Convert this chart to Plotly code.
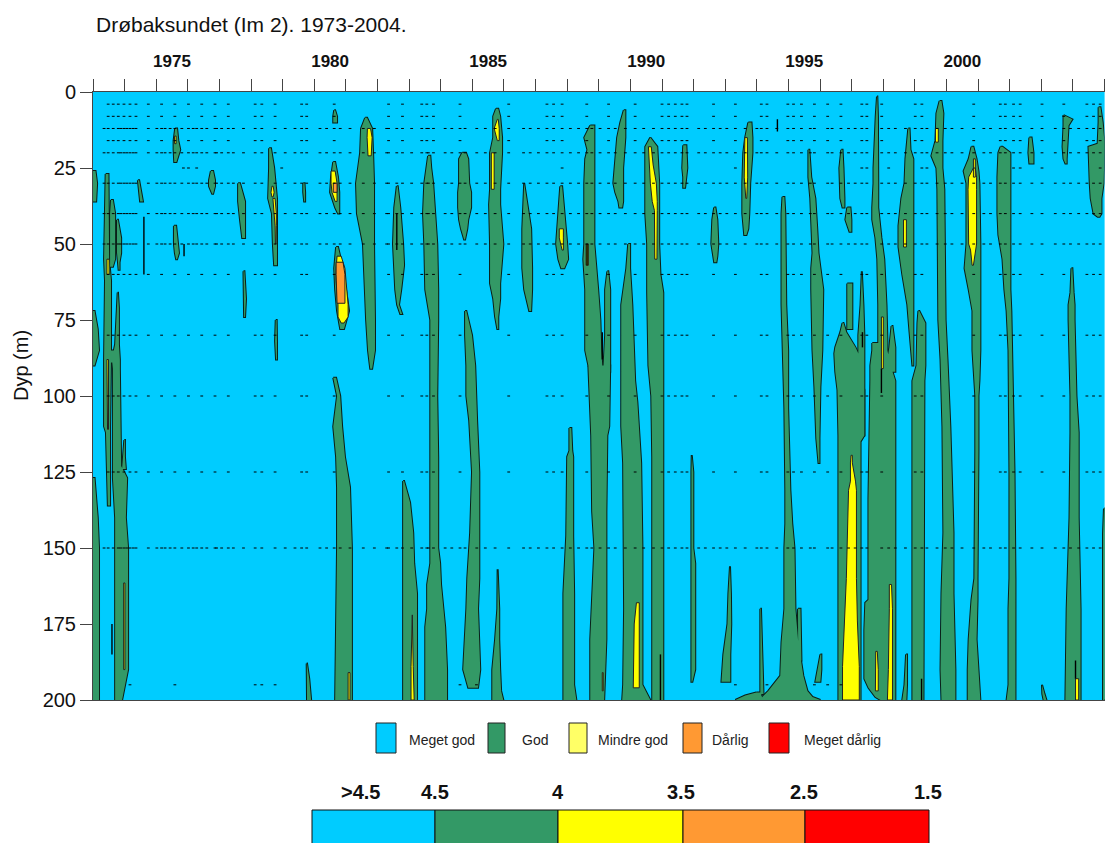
import plotly.graph_objects as go

W, H = 1105, 843
TITLE = "Drøbaksundet (Im 2). 1973-2004."
FONT = "Liberation Sans"
YEAR_TICKS = list(range(1973, 2006))
YEAR_LABELS = [1975, 1980, 1985, 1990, 1995, 2000]
DEPTH_TICKS = [0, 25, 50, 75, 100, 125, 150, 175, 200]
CLR = dict(vg="#00CCFF", g="#339966", y="#FFFF00", o="#FF9933", r="#FF0000")

LEGEND_LABELS = ["Meget god", "God", "Mindre god", "Dårlig", "Meget dårlig"]
LEGEND_COLOURS = ["#00CCFF", "#339966", "#FFFF66", "#FF9933", "#FF0000"]
SCALE_LABELS = [">4.5", "4.5", "4", "3.5", "2.5", "1.5"]
SCALE_COLOURS = ["#00CCFF", "#339966", "#FFFF00", "#FF9933", "#FF0000"]

# Each band: depths (m), left edge (year), right edge (year)
GOD_BANDS = [
 ([26,30,36],[1972.99]*3,[1973.08,1973.13,1973.10]),
 ([72,78,85,90],[1972.99]*4,[1973.05,1973.15,1973.19,1973.05]),
 ([127,133,140,150,200],[1972.99]*5,[1973.05,1973.10,1973.15,1973.19,1973.19]),
 ([27,35,55,62],[1973.40,1973.38,1973.35,1973.38],[1973.49,1973.51,1973.51,1973.57]),
 ([35.5,40,55,57.5],[1973.57,1973.54,1973.54,1973.54],[1973.63,1973.70,1973.70,1973.63]),
 ([42,48,53,56,58.5],[1973.76,1973.76,1973.76,1973.79,1973.81],[1973.79,1973.89,1973.89,1973.84,1973.84]),
 ([62,88,110,112,136],[1973.38,1973.35,1973.35,1973.41,1973.47],[1973.57,1973.57,1973.54,1973.54,1973.54]),
 ([66,71,83,88,91,123,127,140,150,190,195,200],[1973.78,1973.76,1973.70,1973.60,1973.63,1973.63,1973.63,1973.70,1973.70,1973.70,1973.70,1973.70],[1973.79,1973.82,1973.82,1973.85,1973.85,1973.89,1974.08,1974.04,1974.11,1974.11,1974.01,1973.92]),
 ([85,89],[1973.41,1973.41],[1973.70,1973.70]),
 ([114.5,120,124],[1973.99,1973.96,1973.92],[1974.01,1974.01,1974.04]),
 ([29,32,36],[1974.42,1974.44,1974.49],[1974.46,1974.52,1974.58]),
 ([12,16,19,23],[1975.60,1975.55,1975.55,1975.57],[1975.66,1975.70,1975.76,1975.64]),
 ([26,29,31,33.5],[1976.73,1976.67,1976.67,1976.77],[1976.80,1976.86,1976.86,1976.80]),
 ([44,50,53,55],[1975.56,1975.56,1975.59,1975.63],[1975.63,1975.69,1975.72,1975.66]),
 ([30,36,42,48],[1977.59,1977.59,1977.65,1977.72],[1977.65,1977.81,1977.81,1977.81]),
 ([18.5,25,35,40,50,57],[1978.57,1978.57,1978.54,1978.66,1978.69,1978.73],[1978.63,1978.73,1978.82,1978.82,1978.82,1978.82]),
 ([30,33,36],[1979.65,1979.65,1979.68],[1979.69,1979.71,1979.71]),
 ([6,8,10],[1980.63,1980.60,1980.60],[1980.66,1980.72,1980.72]),
 ([23,28,33,38,40],[1980.60,1980.53,1980.50,1980.66,1980.75],[1980.66,1980.75,1980.79,1980.79,1980.79]),
 ([51,58,65,72,78],[1980.69,1980.63,1980.66,1980.72,1980.82],[1980.75,1980.91,1981.01,1981.10,1980.94]),
 ([94,100,110,120,130,150,200],[1980.60,1980.72,1980.60,1980.69,1980.72,1980.72,1980.66],[1980.69,1980.82,1980.88,1980.97,1981.13,1981.19,1981.19]),
 ([8.5,12,20,30,40,50,75,85,91],[1981.61,1981.48,1981.45,1981.32,1981.35,1981.54,1981.64,1981.70,1981.77],[1981.67,1981.83,1981.86,1981.89,1981.89,1981.89,1981.92,1981.92,1981.83]),
 ([31,38,50,57,65,70,73],[1982.61,1982.53,1982.49,1982.53,1982.56,1982.62,1982.72],[1982.64,1982.72,1982.81,1982.84,1982.75,1982.68,1982.78]),
 ([21,25,30,40,50,65,75,100,120,150,155,162,170,176,190,200],[1983.60,1983.54,1983.48,1983.44,1983.48,1983.51,1983.67,1983.67,1983.67,1983.67,1983.67,1983.57,1983.57,1983.51,1983.51,1983.51],[1983.67,1983.70,1983.76,1983.82,1983.89,1983.92,1983.92,1983.89,1983.92,1983.92,1983.98,1984.01,1984.08,1984.14,1984.20,1984.20]),
 ([128,135,145,155,165,200],[1982.81]*6,[1982.84,1983.03,1983.13,1983.16,1983.25,1983.25]),
 ([20,22,30,33,38,42,45,48.5],[1984.68,1984.58,1984.58,1984.55,1984.55,1984.58,1984.64,1984.74],[1984.80,1984.87,1984.90,1984.96,1984.96,1984.87,1984.84,1984.77]),
 ([72,80,90,100,108,125,145,160,170,190,196],[1984.77,1984.77,1984.81,1984.81,1984.90,1984.99,1984.93,1984.84,1984.81,1984.71,1984.87],[1984.81,1984.99,1985.09,1985.12,1985.15,1985.22,1985.22,1985.22,1985.18,1985.25,1985.18]),
 ([5.5,8,15,20,32,37,50,63,68,74,78],[1985.75,1985.66,1985.66,1985.56,1985.56,1985.53,1985.56,1985.56,1985.66,1985.72,1985.79],[1985.82,1985.88,1985.94,1985.94,1985.88,1985.88,1985.98,1985.88,1985.88,1985.82,1985.82]),
 ([157,170,180,190,197,200],[1985.80,1985.79,1985.72,1985.63,1985.63,1985.63],[1985.82,1985.85,1985.85,1985.88,1985.91,1985.98]),
 ([30,36,45,58,65,72],[1986.64,1986.61,1986.58,1986.58,1986.64,1986.80],[1986.66,1986.74,1986.86,1986.89,1986.89,1986.86]),
 ([31,35,42,50,55,58],[1987.78,1987.75,1987.69,1987.65,1987.72,1987.81],[1987.84,1987.88,1987.94,1988.00,1988.03,1987.91]),
 ([110.5,118,120,146,165,195,200],[1988.07,1988.07,1988.00,1987.97,1987.88,1987.88,1987.88],[1988.13,1988.16,1988.19,1988.19,1988.22,1988.22,1988.29]),
 ([11,15,19,22,30,50,55,65,75,85,90],[1988.73,1988.54,1988.64,1988.57,1988.54,1988.54,1988.51,1988.57,1988.57,1988.57,1988.67],[1988.86,1988.86,1988.86,1988.86,1988.86,1988.86,1988.89,1988.98,1989.05,1989.08,1989.11]),
 ([90,110,113,138,150,180,200],[1988.67,1988.73,1988.76,1988.79,1988.86,1988.73,1988.73],[1989.36,1989.33,1989.27,1989.24,1989.24,1989.24,1989.17]),
 ([59,65,80,90,92],[1989.27,1989.20,1989.20,1989.14,1989.14],[1989.30,1989.36,1989.36,1989.36,1989.36]),
 ([6,10,15,25,30,33,36,38],[1989.79,1989.68,1989.58,1989.49,1989.46,1989.52,1989.62,1989.65],[1989.84,1989.84,1989.84,1989.77,1989.77,1989.77,1989.77,1989.74]),
 ([50,58,70,95,102,110,122,150,170,195,200],[1989.93,1989.87,1989.71,1989.71,1989.71,1989.71,1989.77,1989.80,1989.80,1989.77,1989.74],[1989.99,1989.99,1990.06,1990.15,1990.22,1990.28,1990.34,1990.38,1990.38,1990.38,1990.63]),
 ([15,18,30,40,50,60,66,90,100,120,200],[1990.63,1990.47,1990.47,1990.47,1990.53,1990.53,1990.53,1990.57,1990.66,1990.69,1990.69],[1990.63,1990.85,1990.91,1990.91,1990.91,1990.95,1991.04,1991.04,1991.04,1991.04,1991.04]),
 ([17.5,25,28,31.5],[1991.67,1991.64,1991.67,1991.67],[1991.77,1991.80,1991.77,1991.73]),
 ([38,42,50,54,56],[1992.65,1992.59,1992.56,1992.62,1992.65],[1992.69,1992.75,1992.78,1992.75,1992.72]),
 ([119.4,125,150,155,190,194],[1991.94,1991.93,1991.93,1991.93,1991.93,1991.93],[1991.96,1991.99,1991.99,1992.05,1992.05,1991.96]),
 ([156,165,175,185,194],[1993.15,1993.10,1993.07,1992.94,1992.88],[1993.16,1993.18,1993.19,1993.16,1993.16]),
 ([10,15,20,30,40,45,47],[1993.73,1993.63,1993.57,1993.54,1993.54,1993.57,1993.60],[1993.83,1993.86,1993.86,1993.79,1993.76,1993.73,1993.67]),
 ([34.5,40,70,85,104,131,142,150,170,181,192,197,199,200],[1994.81,1994.78,1994.78,1994.81,1994.87,1994.90,1994.90,1994.87,1994.87,1994.78,1994.74,1994.36,1994.17,1994.17],[1994.87,1994.90,1994.93,1994.99,1994.99,1995.06,1995.12,1995.19,1995.22,1995.31,1995.47,1995.60,1995.76,1996.01]),
 ([197.5,198.5,200],[1993.98,1993.63,1993.32],[1994.14,1994.14,1994.21]),
 ([170,180,198],[1994.11,1994.11,1994.11],[1994.13,1994.17,1994.21]),
 ([170,187],[1995.30,1995.31],[1995.38,1995.41]),
 ([19,28,35,45,53,58,65,85,97,114,122],[1995.63,1995.63,1995.69,1995.72,1995.76,1995.72,1995.72,1995.76,1995.82,1995.88,1995.95],[1995.66,1995.72,1995.85,1995.91,1995.95,1996.01,1996.10,1996.07,1996.01,1995.98,1995.98]),
 ([19,25,35,38],[1996.67,1996.61,1996.64,1996.71],[1996.71,1996.74,1996.77,1996.77]),
 ([38,42,46],[1996.86,1996.80,1996.93],[1996.96,1996.99,1996.99]),
 ([63,78],[1996.86,1996.86],[1997.02,1997.02]),
 ([76,79,84,86,92,98,113,115,200],[1996.71,1996.64,1996.48,1996.45,1996.48,1996.55,1996.58,1996.58,1996.58],[1996.74,1996.83,1997.12,1997.21,1997.28,1997.40,1997.40,1997.28,1997.28]),
 ([59,70,80,113],[1997.32,1997.28,1997.21,1997.21],[1997.34,1997.37,1997.40,1997.40]),
 ([1.5,8,25,30,38,42,48,55,70,82,85],[1997.80,1997.76,1997.69,1997.69,1997.65,1997.65,1997.75,1997.81,1997.84,1997.84,1997.84],[1997.81,1997.83,1997.84,1997.84,1997.84,1997.88,1997.94,1998.03,1998.10,1998.13,1998.13]),
 ([77,84,92],[1998.26,1998.19,1998.07],[1998.29,1998.38,1998.38]),
 ([82.6,85,90,95,134,160,167,168,177,193,196,199,200],[1997.65,1997.65,1997.59,1997.59,1997.53,1997.53,1997.53,1997.43,1997.40,1997.40,1997.53,1997.75,1997.91],[1997.91,1998.13,1998.23,1998.38,1998.38,1998.38,1998.38,1998.38,1998.38,1998.38,1998.38,1998.38,1998.38]),
 ([12,19,22,30,35,44,51,60,70,79,90],[1998.79,1998.73,1998.70,1998.67,1998.57,1998.48,1998.48,1998.60,1998.76,1998.83,1998.92],[1998.83,1998.86,1998.95,1998.95,1998.95,1998.95,1998.95,1998.95,1998.95,1998.95,1998.95]),
 ([72,76,90,95,200],[1999.11,1999.08,1999.05,1998.92,1998.92],[1999.14,1999.33,1999.33,1999.30,1999.27]),
 ([3,7,16,21,25,32,75,88,110,145,165,190,200],[1999.78,1999.68,1999.65,1999.52,1999.68,1999.71,1999.74,1999.81,1999.87,1999.90,1999.84,1999.81,1999.84],[1999.84,1999.90,1999.87,1999.87,1999.87,1999.93,1999.97,2000.03,2000.12,2000.22,2000.22,2000.28,2000.28]),
 ([18,22,26,30,50,58,65,72,85,95,100,118,160,167,180,190,200],[2000.79,2000.70,2000.54,2000.63,2000.63,2000.57,2000.70,2000.82,2000.82,2000.88,2000.91,2000.91,2000.88,2000.79,2000.70,2000.67,2000.67],[2000.85,2000.95,2001.01,2001.04,2001.07,2001.07,2001.07,2001.07,2001.07,2001.04,2001.01,2001.01,2000.98,2000.98,2000.95,2001.01,2001.07]),
 ([18,20,28,40,47,55,65,72,85,125,160,170,195,200],[2001.71,2001.64,2001.61,2001.61,2001.64,2001.77,2001.83,2001.90,2001.96,2001.99,2001.99,2001.96,2001.96,2001.90],[2001.77,2002.02,2002.02,2002.02,2002.02,2002.02,2002.02,2002.05,2002.09,2002.15,2002.18,2002.18,2002.18,2002.18]),
 ([15,20,23.5],[2002.62,2002.59,2002.62],[2002.69,2002.75,2002.75]),
 ([7.6,9,11,18,22,23.5],[2003.70,2003.70,2003.70,2003.67,2003.70,2003.76],[2003.73,2003.98,2003.86,2003.83,2003.80,2003.80]),
 ([5,10,17,18,30,35,40,41],[2004.81,2004.81,2004.78,2004.49,2004.53,2004.56,2004.65,2004.78],[2004.87,2004.94,2005.00,2005.00,2004.97,2004.90,2004.90,2004.84]),
 ([58,66,70,75,100,112,140,170,200],[2003.95,2003.92,2003.86,2003.86,2003.92,2003.92,2003.89,2003.80,2003.76],[2003.98,2004.02,2004.05,2004.05,2004.11,2004.18,2004.18,2004.24,2004.24]),
 ([137,145,200],[2004.98,2004.95,2004.95],[2005.1,2005.1,2005.1]),
 ([59,68,74],[1977.76,1977.76,1977.78],[1977.79,1977.84,1977.81]),
 ([75,82,88],[1978.78,1978.76,1978.79],[1978.81,1978.82,1978.82]),
 ([188,193,200],[1979.76,1979.77,1979.77],[1979.77,1979.84,1979.90]),
 ([185,195,200],[1998.72,1998.67,1998.60],[1998.75,1998.75,1998.73]),
 ([185,190,194],[1996.01,1995.91,1995.85],[1996.04,1996.04,1996.01]),
 ([195,198,200],[2003.02,2003.03,2003.07],[2003.03,2003.10,2003.16]),
]

MINDRE_GOD_BANDS = [
 ([14.5,17],[1975.58,1975.58],[1975.63,1975.63]),
 ([31,33,34.5],[1978.66,1978.63,1978.66],[1978.70,1978.73,1978.70]),
 ([35,40,44,50],[1978.69,1978.72,1978.76,1978.77],[1978.76,1978.80,1978.80,1978.79]),
 ([26,30,33,36],[1980.53,1980.53,1980.56,1980.66],[1980.66,1980.72,1980.72,1980.72]),
 ([54,58,62,70,74,76],[1980.72,1980.69,1980.69,1980.75,1980.75,1980.85],[1980.85,1980.97,1981.01,1981.07,1981.07,1980.94]),
 ([12,15,21],[1981.68,1981.67,1981.70],[1981.78,1981.83,1981.80]),
 ([191,200],[1981.07,1981.07],[1981.13,1981.13]),
 ([88,111],[1973.44,1973.46],[1973.49,1973.49]),
 ([161.5,190],[1973.97,1973.97],[1974.01,1974.01]),
 ([55,60],[1973.44,1973.44],[1973.51,1973.51]),
 ([172,189,200],[1983.10,1983.06,1983.06],[1983.11,1983.13,1983.16]),
 ([9,12,16],[1985.79,1985.69,1985.79],[1985.82,1985.85,1985.85]),
 ([20,32],[1985.60,1985.60],[1985.69,1985.69]),
 ([45,48,52],[1987.75,1987.75,1987.84],[1987.88,1987.88,1987.88]),
 ([18,24,30,36,39,55],[1990.57,1990.60,1990.63,1990.69,1990.76,1990.77],[1990.66,1990.72,1990.82,1990.85,1990.85,1990.84]),
 ([168,175,196],[1990.19,1990.12,1990.09],[1990.28,1990.28,1990.28]),
 ([191,197],[1989.11,1989.11],[1989.14,1989.14]),
 ([50,57],[1988.60,1988.60],[1988.67,1988.67]),
 ([15,21,28,35],[1993.62,1993.60,1993.60,1993.65],[1993.70,1993.71,1993.71,1993.68]),
 ([74,91],[1997.94,1997.94],[1998.00,1998.00]),
 ([162,170,190,200],[1998.19,1998.19,1998.16,1998.13],[1998.26,1998.29,1998.29,1998.29]),
 ([184,190,197],[1997.76,1997.75,1997.75],[1997.81,1997.84,1997.84]),
 ([119.5,122,128,131,160,174,189,200],[1996.98,1996.96,1996.96,1996.90,1996.83,1996.77,1996.71,1996.71],[1997.02,1997.02,1997.12,1997.15,1997.15,1997.18,1997.24,1997.24]),
 ([42,51],[1998.64,1998.64],[1998.73,1998.73]),
 ([12,16.5],[1999.65,1999.65],[1999.74,1999.74]),
 ([22,28],[2000.85,2000.85],[2000.91,2000.91]),
 ([25,28,32,50,52,55,57],[2000.85,2000.70,2000.68,2000.70,2000.76,2000.79,2000.81],[2000.91,2000.95,2000.95,2000.95,2000.91,2000.88,2000.85]),
 ([193,200],[2004.08,2004.08],[2004.18,2004.18]),
]

DARLIG_BANDS = [
 ([30,33],[1980.60,1980.60],[1980.72,1980.72]),
 ([56,60,69.5],[1980.69,1980.69,1980.72],[1980.91,1980.97,1980.97]),
]

# Thin isolated contour slivers: year, top depth, bottom depth
SLIVERS = [
 (1974.61,41,60),(1975.88,50,54),(1973.60,175,185),(1990.95,185,200),
 (1999.21,193,200),(1989.11,79,88),(1997.94,91,99),(1997.34,79,84),
 (1994.65,9,13),(2004.08,187,193),(1988.63,50,57),(1982.61,40,52),
]

# Sampling times read from the dotted rows
SPARSE_TIMES = [1973.48,1973.64,1973.80,1973.98,1974.17,1974.36,1974.75,1975.17,1975.59,1976.02,1976.44,1976.86,1977.28,1978.13,1978.34,1978.76,1979.60,1979.76,1980.63,
 1982.35,1982.79,1983.40,1983.56,1983.77,1984.61,1986.15,1987.36,1987.57,1987.84,1988.62,1989.31,1990.15,1991.00,1991.21,1991.42,1991.63,1991.79,1992.63,1993.32,
 1994.14,1994.32,1994.98,1995.16,1995.41,1995.82,1996.24,1996.66,1997.32,1997.48,1997.95,1999.01,1999.22,2000.86,2001.70,2001.86,2002.12,2002.33,2003.02,2003.71,2004.44,2004.65,2004.86]
EXTRA_TIMES = [1973.35,1973.88,1974.07,1974.27,1975.02,1975.28,1975.44,1975.81,1976.17,1976.28,1976.60,1976.91,1977.07,1977.44,1977.76,1979.08,1979.39,1980.18,1980.39,1980.82,1981.13,1981.55,1981.90,
 1982.29,1982.61,1983.08,1983.61,1984.14,1984.35,1984.77,1985.14,1985.41,1985.72,1986.62,1986.83,1987.09,1988.10,1988.36,1988.78,1989.04,1989.52,1989.84,1990.42,1990.73,1992.16,1992.37,1992.84,1993.05,
 1993.63,1994.00,1994.63,1995.69,1996.38,1996.90,1997.11,1998.17,1998.38,1998.70,1999.38,1999.70,1999.96,2000.17,2000.49,2001.18,2001.39,2002.70,2003.44,2003.92,2004.18]
SPARSE_DEPTHS = [4, 8, 16, 60, 80, 100, 125]
DENSE_DEPTHS = [12, 20, 30, 40, 50, 150]
ROW25_TIMES = [1975.86,1976.02,1976.28,1978.97,1987.84,1993.32,1997.32,1997.48,1998.17,1999.22,1999.38,2002.12,2002.33,2003.02,2004.86]
ROW195_TIMES = [1974.17,1975.59,1978.13,1978.34,1978.76,1984.61,1985.13,1993.32,1994.32,1995.82,1996.24,1996.66]


def path(bands):
    xs, ys = [], []
    for depths, left, right in bands:
        xs += list(left) + list(right)[::-1] + [left[0], None]
        ys += list(depths) + list(depths)[::-1] + [depths[0], None]
    return xs, ys


fig = go.Figure()
gx, gy = path(GOD_BANDS)
fig.add_trace(go.Scatter(x=gx, y=gy, mode="lines", fill="toself", fillcolor=CLR["g"],
                         line=dict(color="#0a1f18", width=2), hoverinfo="skip"))
fig.add_trace(go.Scatter(x=gx, y=gy, mode="lines", fill="toself", fillcolor=CLR["g"],
                         line=dict(color=CLR["g"], width=0), hoverinfo="skip"))
yx, yy = path(MINDRE_GOD_BANDS)
fig.add_trace(go.Scatter(x=yx, y=yy, mode="lines", fill="toself", fillcolor=CLR["y"],
                         line=dict(color="#222", width=1), hoverinfo="skip"))
ox, oy = path(DARLIG_BANDS)
fig.add_trace(go.Scatter(x=ox, y=oy, mode="lines", fill="toself", fillcolor=CLR["o"],
                         line=dict(color="#222", width=1), hoverinfo="skip"))
sx, sy = [], []
for yr, d0, d1 in SLIVERS:
    sx += [yr, yr, None]
    sy += [d0, d1, None]
fig.add_trace(go.Scatter(x=sx, y=sy, mode="lines", line=dict(color="black", width=1.4), hoverinfo="skip"))

dx, dy = [], []
for d in SPARSE_DEPTHS:
    dx += SPARSE_TIMES
    dy += [d] * len(SPARSE_TIMES)
dense = sorted(SPARSE_TIMES + EXTRA_TIMES)
for d in DENSE_DEPTHS:
    dx += dense
    dy += [d] * len(dense)
dx += ROW25_TIMES + ROW195_TIMES
dy += [25] * len(ROW25_TIMES) + [195] * len(ROW195_TIMES)
fig.add_trace(go.Scatter(x=dx, y=dy, mode="markers", hoverinfo="skip",
                         marker=dict(symbol="line-ew", size=2, color="black",
                                     line=dict(color="black", width=1))))

# invisible carrier for the year labels axis
label_x = [y + 0.5 for y in YEAR_LABELS]
fig.add_trace(go.Scatter(x=label_x, y=[0] * len(label_x), xaxis="x2", mode="none", hoverinfo="skip"))


def fx(p):
    return p / W


def fy(p):
    return 1 - p / H


axis_col = "#444444"
fig.update_layout(
    width=W, height=H, autosize=False, showlegend=False,
    margin=dict(l=0, r=0, t=0, b=0),
    paper_bgcolor="white", plot_bgcolor=CLR["vg"],
    font=dict(family=FONT, color="#111"),
    xaxis=dict(domain=[fx(93), fx(1104.6)], range=[1973, 2005], side="top", anchor="y", automargin=False,
               tickvals=YEAR_TICKS, ticktext=[""] * len(YEAR_TICKS), ticks="outside", ticklen=12,
               tickcolor=axis_col, tickwidth=1, showgrid=False, zeroline=False,
               showline=True, linecolor=axis_col, linewidth=1, mirror=True),
    xaxis2=dict(domain=[fx(93), fx(1104.6)], range=[1973, 2005], side="top", overlaying="x", anchor="y", automargin=False,
                tickvals=label_x, ticktext=[str(y) for y in YEAR_LABELS], ticks="outside", ticklen=17,
                tickcolor="rgba(0,0,0,0)", showgrid=False, zeroline=False, showline=False,
                tickfont=dict(family=FONT, size=17, color="#111", weight="bold")),
    yaxis=dict(domain=[fy(700), fy(92)], range=[200, 0], anchor="x", automargin=False, tickvals=DEPTH_TICKS,
               ticks="outside", ticklen=12, tickcolor=axis_col, tickwidth=1, showgrid=False,
               zeroline=False, showline=True, linecolor=axis_col, linewidth=1,
               tickfont=dict(family=FONT, size=20, color="#111")),
)

ann = [
    dict(text=TITLE, xref="paper", yref="paper", x=fx(94), y=fy(24), xanchor="left", yanchor="middle", showarrow=False,
         font=dict(family=FONT, size=21, color="#111")),
    dict(text="Dyp (m)", xref="paper", yref="paper", x=fx(21), y=fy(366), xanchor="center", yanchor="middle", textangle=-90,
         showarrow=False, font=dict(family=FONT, size=20, color="#111")),
]
shapes = []
leg_boxes = [(376, 396), (488, 505), (569, 587), (683, 702), (769, 789)]
leg_text = [441.5, 535, 632.5, 730, 842.5]
for (x0, x1), c, t, tx in zip(leg_boxes, LEGEND_COLOURS, LEGEND_LABELS, leg_text):
    shapes.append(dict(type="rect", xref="paper", yref="paper", x0=fx(x0), x1=fx(x1), y0=fy(753), y1=fy(723),
                       fillcolor=c, line=dict(color="#222", width=1)))
    ann.append(dict(text=t, xref="paper", yref="paper", x=fx(tx), y=fy(740), xanchor="center", yanchor="middle", showarrow=False,
                    font=dict(family=FONT, size=14, color="#222")))
bar_edges = [312, 435, 558, 683, 805, 929]
for i, c in enumerate(SCALE_COLOURS):
    shapes.append(dict(type="rect", xref="paper", yref="paper", x0=fx(bar_edges[i]), x1=fx(bar_edges[i + 1]),
                       y0=fy(850), y1=fy(810), fillcolor=c, line=dict(color="#111", width=1)))
scale_pos = [360, 435, 558, 681, 804, 928]
for t, p in zip(SCALE_LABELS, scale_pos):
    ann.append(dict(text=f"<b>{t}</b>", xref="paper", yref="paper", x=fx(p), y=fy(792), xanchor="center", yanchor="middle", showarrow=False,
                    font=dict(family=FONT, size=20, color="#111")))
fig.update_layout(annotations=ann, shapes=shapes)

fig.write_html("out.html", config=dict(displayModeBar=False),
               post_script="document.body.style.margin='0';document.body.style.overflow='hidden';")
